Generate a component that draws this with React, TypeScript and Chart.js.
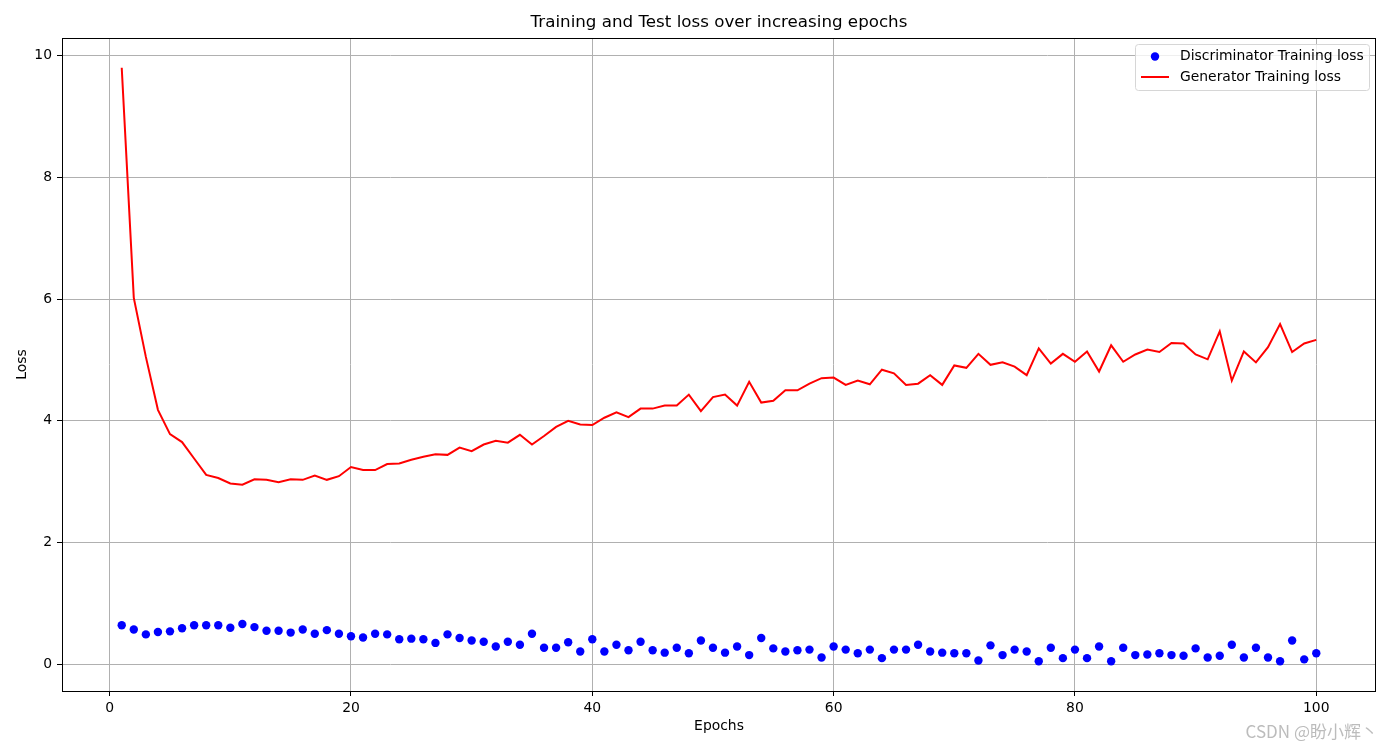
import React, { useEffect, useRef } from "react";
import { Chart, registerables } from "chart.js";

Chart.register(...registerables);

const epochs = [
  1, 2, 3, 4, 5, 6, 7, 8, 9, 10, 11, 12, 13, 14, 15, 16, 17, 18, 19, 20,
  21, 22, 23, 24, 25, 26, 27, 28, 29, 30, 31, 32, 33, 34, 35, 36, 37, 38, 39, 40,
  41, 42, 43, 44, 45, 46, 47, 48, 49, 50, 51, 52, 53, 54, 55, 56, 57, 58, 59, 60,
  61, 62, 63, 64, 65, 66, 67, 68, 69, 70, 71, 72, 73, 74, 75, 76, 77, 78, 79, 80,
  81, 82, 83, 84, 85, 86, 87, 88, 89, 90, 91, 92, 93, 94, 95, 96, 97, 98, 99, 100,
];

const discLoss = [
  0.64, 0.57, 0.49, 0.53, 0.54, 0.59, 0.64, 0.64, 0.64, 0.6,
  0.66, 0.61, 0.55, 0.55, 0.52, 0.57, 0.5, 0.56, 0.5, 0.46,
  0.44, 0.5, 0.49, 0.41, 0.42, 0.41, 0.35, 0.49, 0.43, 0.39,
  0.37, 0.29, 0.37, 0.32, 0.5, 0.27, 0.27, 0.36, 0.21, 0.41,
  0.21, 0.32, 0.23, 0.37, 0.23, 0.19, 0.27, 0.18, 0.39, 0.27,
  0.19, 0.29, 0.15, 0.43, 0.26, 0.21, 0.23, 0.24, 0.11, 0.29,
  0.24, 0.18, 0.24, 0.1, 0.24, 0.24, 0.32, 0.21, 0.19, 0.18,
  0.18, 0.06, 0.31, 0.15, 0.24, 0.21, 0.05, 0.27, 0.1, 0.24,
  0.1, 0.29, 0.05, 0.27, 0.15, 0.16, 0.18, 0.15, 0.14, 0.26,
  0.11, 0.14, 0.32, 0.11, 0.27, 0.11, 0.05, 0.39, 0.08, 0.18,
];

const genLoss = [
  9.8, 6.02, 5.05, 4.18, 3.78, 3.65, 3.38, 3.11, 3.06, 2.97,
  2.95, 3.04, 3.03, 2.99, 3.04, 3.03, 3.1, 3.03, 3.09, 3.24,
  3.19, 3.19, 3.29, 3.3, 3.36, 3.41, 3.45, 3.44, 3.56, 3.5,
  3.61, 3.67, 3.64, 3.77, 3.61, 3.75, 3.9, 4.0, 3.94, 3.93,
  4.05, 4.14, 4.06, 4.2, 4.2, 4.25, 4.25, 4.43, 4.16, 4.39,
  4.43, 4.25, 4.64, 4.3, 4.33, 4.5, 4.5, 4.61, 4.7, 4.71,
  4.59, 4.66, 4.6, 4.84, 4.78, 4.59, 4.61, 4.75, 4.59, 4.91,
  4.87, 5.1, 4.92, 4.96, 4.89, 4.75, 5.19, 4.94, 5.1, 4.97,
  5.14, 4.81, 5.24, 4.97, 5.09, 5.17, 5.13, 5.28, 5.27, 5.09,
  5.01, 5.47, 4.66, 5.14, 4.96, 5.21, 5.59, 5.13, 5.27, 5.33,
];

const xTicks = [0, 20, 40, 60, 80, 100];
const yTicks = [0, 2, 4, 6, 8, 10];

const titleText = "Training and Test loss over increasing epochs";
const xLabel = "Epochs";
const yLabel = "Loss";
const discName = "Discriminator Training loss";
const genName = "Generator Training loss";
const watermark = "CSDN @盼小辉丶";

const FONT = "'DejaVu Sans', sans-serif";

export default function App() {
  const ref = useRef<HTMLCanvasElement | null>(null);

  useEffect(() => {
    document.body.style.margin = "0";
    const canvas = ref.current;
    if (!canvas) return;

    const decor = {
      id: "decor",
      afterDraw(chart: any) {
        const ctx = chart.ctx as CanvasRenderingContext2D;
        const a = chart.chartArea;
        ctx.save();
        // frame
        ctx.strokeStyle = "#000";
        ctx.lineWidth = 1;
        const l = Math.round(a.left), t = Math.round(a.top), rr = Math.round(a.right), b = Math.round(a.bottom);
        ctx.strokeRect(l + 0.5, t + 0.5, rr - l - 1, b - t);
        // title
        ctx.fillStyle = "#000";
        ctx.textAlign = "center";
        ctx.textBaseline = "middle";
        ctx.font = `16.7px ${FONT}`;
        ctx.fillText(titleText, (a.left + a.right) / 2, 23);
        // axis labels
        ctx.font = `13.9px ${FONT}`;
        ctx.fillText(xLabel, (a.left + a.right) / 2, 726);
        ctx.save();
        ctx.translate(22, (a.top + a.bottom) / 2);
        ctx.rotate(-Math.PI / 2);
        ctx.fillText(yLabel, 0, 0);
        ctx.restore();
        // legend
        const lx = 1135.5, ly = 44.5, lw = 234, lh = 46, r = 3;
        ctx.beginPath();
        ctx.moveTo(lx + r, ly);
        ctx.lineTo(lx + lw - r, ly);
        ctx.arcTo(lx + lw, ly, lx + lw, ly + r, r);
        ctx.lineTo(lx + lw, ly + lh - r);
        ctx.arcTo(lx + lw, ly + lh, lx + lw - r, ly + lh, r);
        ctx.lineTo(lx + r, ly + lh);
        ctx.arcTo(lx, ly + lh, lx, ly + lh - r, r);
        ctx.lineTo(lx, ly + r);
        ctx.arcTo(lx, ly, lx + r, ly, r);
        ctx.closePath();
        ctx.fillStyle = "rgba(255,255,255,0.8)";
        ctx.fill();
        ctx.strokeStyle = "#d6d6d6";
        ctx.lineWidth = 1;
        ctx.stroke();
        ctx.fillStyle = "#0000ff";
        ctx.beginPath();
        ctx.arc(1155, 56.5, 4.2, 0, Math.PI * 2);
        ctx.fill();
        ctx.strokeStyle = "#ff0000";
        ctx.lineWidth = 2;
        ctx.beginPath();
        ctx.moveTo(1141, 77);
        ctx.lineTo(1169, 77);
        ctx.stroke();
        ctx.fillStyle = "#000";
        ctx.textAlign = "left";
        ctx.font = `13.9px ${FONT}`;
        ctx.fillText(discName, 1180, 56.5);
        ctx.fillText(genName, 1180, 77);
        // watermark
        ctx.font = `17px 'Noto Sans CJK SC', ${FONT}`;
        ctx.fillStyle = "rgba(160,160,160,0.7)";
        ctx.textAlign = "right";
        ctx.fillText(watermark, 1378, 732);
        ctx.restore();
      },
    };

    const chart = new Chart(canvas, {
      type: "line",
      data: {
        datasets: [
          {
            label: discName,
            data: epochs.map((e, i) => ({ x: e, y: discLoss[i] })),
            showLine: false,
            pointRadius: 4.2,
            pointHoverRadius: 4.2,
            pointBackgroundColor: "#0000ff",
            pointBorderColor: "#0000ff",
            pointBorderWidth: 0,
            borderColor: "#0000ff",
            backgroundColor: "#0000ff",
          },
          {
            label: genName,
            data: epochs.map((e, i) => ({ x: e, y: genLoss[i] })),
            borderColor: "#ff0000",
            backgroundColor: "#ff0000",
            borderWidth: 2,
            pointRadius: 0,
            tension: 0,
          },
        ],
      },
      options: {
        responsive: false,
        animation: false,
        events: [],
        layout: { padding: { top: 38, right: 15, left: 0, bottom: 0 } },
        plugins: {
          legend: { display: false },
          title: { display: false },
          tooltip: { enabled: false },
        },
        scales: {
          x: {
            type: "linear",
            min: -3.95,
            max: 104.95,
            afterBuildTicks: (scale: any) => {
              scale.ticks = xTicks.map((v) => ({ value: v }));
            },
            afterFit: (scale: any) => {
              scale.height = 58;
            },
            grid: { color: "#b0b0b0", lineWidth: 1, tickColor: "#000", tickLength: 5, drawTicks: true },
            border: { display: false },
            ticks: {
              color: "#000",
              padding: 4,
              maxRotation: 0,
              autoSkip: false,
              font: { family: FONT, size: 13.9 },
              callback: (v: any) => String(v),
            },
          },
          y: {
            type: "linear",
            min: -0.44,
            max: 10.29,
            afterBuildTicks: (scale: any) => {
              scale.ticks = yTicks.map((v) => ({ value: v }));
            },
            afterFit: (scale: any) => {
              scale.width = 62;
            },
            grid: { color: "#b0b0b0", lineWidth: 1, tickColor: "#000", tickLength: 5, drawTicks: true },
            border: { display: false },
            ticks: {
              color: "#000",
              padding: 5,
              autoSkip: false,
              font: { family: FONT, size: 13.9 },
              callback: (v: any) => String(v),
            },
          },
        },
      },
      plugins: [decor],
    } as any);

    return () => chart.destroy();
  }, []);

  return (
    <div style={{ width: 1391, height: 749, background: "#fff" }}>
      <canvas ref={ref} width={1391} height={749} style={{ display: "block" }} />
    </div>
  );
}
